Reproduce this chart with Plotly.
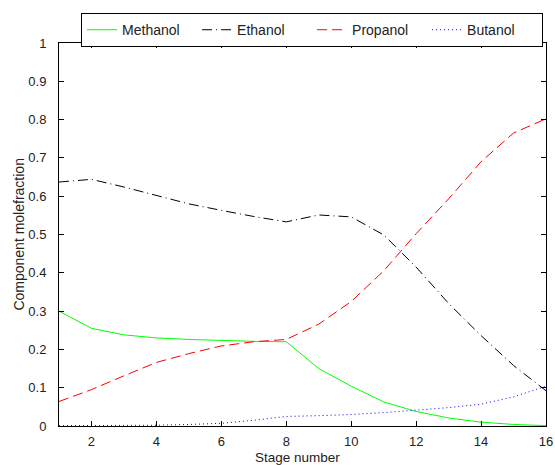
import plotly.graph_objects as go

stages = list(range(1, 17))
methanol = [0.300, 0.255, 0.238, 0.230, 0.226, 0.223, 0.221, 0.220, 0.150, 0.104, 0.063, 0.038, 0.021, 0.010, 0.004, 0.001]
ethanol = [0.637, 0.644, 0.624, 0.603, 0.580, 0.563, 0.547, 0.533, 0.551, 0.546, 0.499, 0.415, 0.320, 0.236, 0.158, 0.092]
propanol = [0.064, 0.095, 0.131, 0.166, 0.189, 0.209, 0.220, 0.226, 0.266, 0.325, 0.405, 0.502, 0.593, 0.690, 0.765, 0.802]
butanol = [0.001, 0.001, 0.001, 0.002, 0.004, 0.007, 0.015, 0.025, 0.027, 0.030, 0.035, 0.041, 0.048, 0.057, 0.076, 0.104]

series = [
    ("Methanol", methanol, "#00ff00", "solid"),
    ("Ethanol", ethanol, "#000000", "10px,4px,1px,4px"),
    ("Propanol", propanol, "#ff0000", "10px,5px"),
    ("Butanol", butanol, "#0000ff", "1px,3px"),
]

FONT = "Liberation Sans, Arial"
TXT = "#222222"

fig = go.Figure()
for name, vals, col, dash in series:
    fig.add_trace(go.Scatter(x=stages, y=vals, mode="lines", name=name,
                             line=dict(color=col, width=1, dash=dash)))

axis_common = dict(showline=True, linecolor="black", linewidth=1, mirror="ticks",
                   ticks="inside", ticklen=5, tickcolor="black", showgrid=False,
                   zeroline=False, automargin=False,
                   tickfont=dict(family=FONT, size=13, color=TXT))

fig.update_layout(
    width=555, height=465,
    margin=dict(l=59, r=9, t=43, b=39, autoexpand=False),
    paper_bgcolor="white", plot_bgcolor="white",
    font=dict(family=FONT, size=13, color=TXT),
    xaxis=dict(range=[1, 16], tickvals=[2, 4, 6, 8, 10, 12, 14, 16],
               ticklabelstandoff=3, **axis_common),
    yaxis=dict(range=[0, 1], tickvals=[i / 10 for i in range(11)],
               ticktext=["0", "0.1", "0.2", "0.3", "0.4", "0.5", "0.6", "0.7", "0.8", "0.9", "1"],
               ticklabelstandoff=9, **axis_common),
    legend=dict(orientation="h", x=0.994, xanchor="right", y=1.078, yanchor="top",
                bordercolor="black", borderwidth=1, bgcolor="white",
                entrywidth=70, entrywidthmode="pixels",
                font=dict(family=FONT, size=14, color=TXT)),
    showlegend=True,
    annotations=[
        dict(text="Stage number", xref="paper", yref="paper", x=0.49, y=-0.083,
             xanchor="center", yanchor="middle", showarrow=False,
             font=dict(family=FONT, size=13.5, color=TXT)),
        dict(text="Component molefraction", xref="paper", yref="paper", x=-0.084, y=0.5,
             xanchor="center", yanchor="middle", textangle=-90, showarrow=False,
             font=dict(family=FONT, size=14, color=TXT)),
    ],
)

fig.write_html("out.html")
